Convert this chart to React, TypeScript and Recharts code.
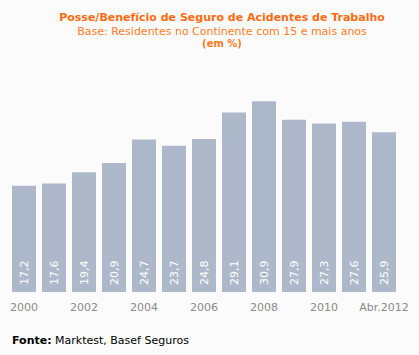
import React from "react";
import { BarChart, Bar, XAxis, YAxis, LabelList } from "recharts";

const categories = ["2000", "2001", "2002", "2003", "2004", "2005", "2006", "2007", "2008", "2009", "2010", "2011", "Abr.2012"];
const values = [17.2, 17.6, 19.4, 20.9, 24.7, 23.7, 24.8, 29.1, 30.9, 27.9, 27.3, 27.6, 25.9];

const data = categories.map((c, i) => ({ name: c, value: values[i] }));

const FONT = "Verdana, 'DejaVu Sans', sans-serif";

const InsideLabel = (props: any) => {
  const { x, y, width, height, value } = props;
  const cx = x + width / 2;
  const by = y + height - 7;
  return (
    <text
      x={cx}
      y={by}
      transform={`rotate(-90 ${cx} ${by})`}
      textAnchor="start"
      dominantBaseline="central"
      fill="#ffffff"
      fontSize={11}
      fontFamily={FONT}
    >
      {String(value).replace(".", ",")}
    </text>
  );
};

export default function App() {
  return (
    <div style={{ position: "absolute", left: 0, top: 0, width: 419, height: 355, background: "#fbfbfb", fontFamily: FONT }}>
      <div style={{ position: "absolute", left: 0, top: 11, width: 444, textAlign: "center", color: "#ff6a10", fontWeight: "bold", fontSize: 11, lineHeight: "13px" }}>
        Posse/Benefício de Seguro de Acidentes de Trabalho
      </div>
      <div style={{ position: "absolute", left: 0, top: 25, width: 444, textAlign: "center", color: "#ff7b26", fontSize: 11, lineHeight: "13px" }}>
        Base: Residentes no Continente com 15 e mais anos
      </div>
      <div style={{ position: "absolute", left: 0, top: 38, width: 444, textAlign: "center", color: "#ff7b26", fontWeight: "bold", fontSize: 10, lineHeight: "11px" }}>
        (em %)
      </div>
      <div style={{ position: "absolute", left: 0, top: 0 }}>
        <BarChart width={419} height={355} data={data} margin={{ top: 76, right: 20, bottom: 33, left: 9 }} barCategoryGap={3}>
          <YAxis hide domain={[0, 35]} />
          <XAxis
            dataKey="name"
            interval={1}
            axisLine={false}
            tickLine={false}
            height={30}
            tickMargin={5}
            tick={{ fill: "#8a8a8a", fontSize: 11, fontFamily: FONT }}
          />
          <Bar dataKey="value" fill="#adb9ca" barSize={24} isAnimationActive={false}>
            <LabelList dataKey="value" content={<InsideLabel />} />
          </Bar>
        </BarChart>
      </div>
      <div style={{ position: "absolute", left: 12, top: 334, fontSize: 11, color: "#000", lineHeight: "14px" }}>
        <b>Fonte:</b> Marktest, Basef Seguros
      </div>
    </div>
  );
}
